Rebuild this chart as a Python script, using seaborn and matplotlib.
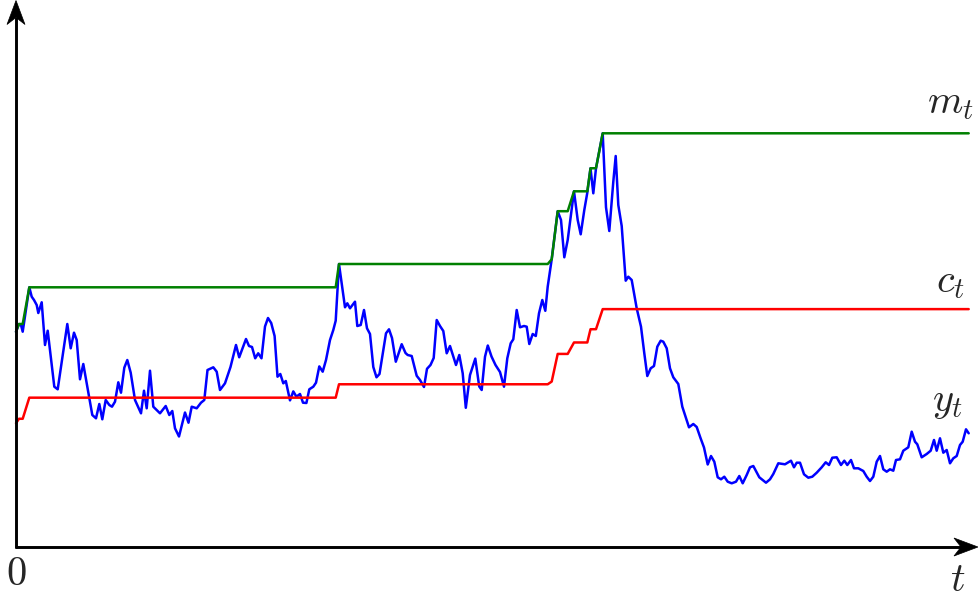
import numpy as np
import pandas as pd
import matplotlib
matplotlib.use("Agg")
import matplotlib.pyplot as plt
from matplotlib.patches import Polygon
import seaborn as sns

# ---- data (time t, process y_t) ----
t = [0, 3, 5, 6.7, 13.3, 15.7, 18, 20.7, 22.3, 25.7, 29, 31.7, 38.3, 41.7, 51.3, 54.7, 58, 60.7,
     64, 67.3, 76.3, 80, 83.3, 86.3, 89.7, 93.3, 96, 99, 102.3, 105, 108.3, 111.3, 114.7, 119,
     125, 128, 130.7, 134, 137.3, 144, 149.7, 153.3, 156.3, 159, 163, 169, 172.5, 175.7, 180.7,
     185, 188.3, 191.5, 197.3, 200.7, 204, 209, 214.5, 220, 223.2, 230, 233, 236, 239.2, 242.2,
     245.5, 249, 252, 255.2, 258.6, 261.5, 264.3, 267.3, 269.8, 274, 277.3, 280.4, 284, 287,
     290.4, 293.3, 297.3, 300, 303.3, 306.7, 310, 314, 317.3, 319.7, 323, 325.7, 329, 331.3,
     334, 335.7, 339, 341.3, 344.7, 348, 351, 354, 357.3, 360.5, 363.5, 370, 373, 376, 379.8,
     385.7, 389.5, 391.7, 395.7, 400.7, 404, 408, 411, 414.5, 417.7, 420.7, 424, 427.3, 430.7,
     434, 440, 443.3, 446.7, 449.8, 454, 459.3, 463.2, 465.7, 469, 471.8, 475.5, 479.5, 484,
     488, 491.3, 494.7, 497.3, 500.7, 504, 508, 510.7, 513.3, 516.7, 519.8, 523, 526.3, 529.3,
     531.7, 535.7, 541.7, 545, 548.3, 551.7, 558, 561.7, 564.7, 568.3, 571.3, 574.5, 577.3,
     580, 586.7, 590, 593.3, 597.3, 599.7, 602.3, 605.7, 609.7, 612.3, 615.7, 620.7, 625,
     628.3, 631.3, 634.7, 638, 641.3, 644.7, 647.3, 650.7, 654, 657.3, 662.3, 666.3, 673,
     677.3, 680.7, 684.5, 688, 691.7, 695, 698.3, 701.7, 705, 708.3, 711.7, 715.7, 720, 723.3,
     726.7, 730.7, 734, 737.3, 743.3, 750, 754, 757.3, 762.3, 769, 775, 778, 780.7, 784, 788,
     792.3, 796.3, 800.7, 805.7, 809.7, 813, 816.3, 820.7, 825, 828.3, 831.3, 835, 838, 842.3,
     847.3, 850.7, 854, 857.3, 860.7, 864, 867.3, 870.7, 874, 877.3, 880, 884, 887.3, 892.3,
     895.7, 899, 901.3, 905.7, 910.7, 914.7, 918, 920.7, 924, 927.3, 930.7, 934, 937.3, 940.7,
     944, 946.7, 950, 952.7]
y = [215.3, 223, 222, 215.3, 259.7, 250.3, 247, 242, 234, 244.7, 202, 216.3, 160.3, 157.7, 223,
     198.7, 214.3, 207, 167.7, 183, 132, 128.7, 143, 127.7, 147, 142, 140.3, 145.3, 164.7,
     154.3, 179.3, 187, 174.3, 147, 133.7, 156.3, 138.7, 176.3, 140.3, 133.7, 141, 132, 136,
     118.7, 110.5, 134.5, 124.3, 140.3, 138.7, 144.3, 147, 177, 179.7, 175.3, 157, 163.7, 180,
     202, 189.7, 208, 201, 200, 188.7, 193.7, 188.7, 220.5, 229, 224, 211, 170.3, 173, 163.7,
     166, 146.6, 155.6, 150.3, 153, 144.3, 144, 157.7, 160.3, 164.3, 180.6, 175.3, 187, 207,
     217, 226.3, 283, 263.7, 239.7, 243.7, 238.7, 241, 245.3, 221, 222, 237, 218.7, 213, 180,
     169.7, 173, 213.7, 217.7, 209, 185.3, 202.8, 194, 192, 191, 171.2, 167, 160, 178.2, 182,
     189, 227, 221, 216, 193.7, 201, 182, 192, 173.7, 139.2, 172, 188.4, 160.6, 157, 190.3,
     201.5, 190.5, 182, 175, 160.3, 188.7, 203.7, 207.7, 237, 219.7, 221, 220.3, 203, 213, 211,
     233.7, 247, 236.2, 260.3, 287.7, 335.8, 327, 289.7, 307, 355.7, 327, 312.7, 337, 354.3,
     378.7, 353.7, 378.8, 413.7, 339.7, 316, 365.3, 391, 342, 321, 266.3, 270.3, 267, 238.7,
     220.3, 193.7, 171, 178.7, 181, 200.3, 206.3, 205.3, 198.7, 178.7, 169.7, 163, 140.3,
     119.7, 123, 120, 109, 99.5, 82.5, 91, 85.3, 69.7, 67.7, 70.3, 65.3, 63.7, 65.3, 71, 63.7,
     72, 79.7, 81, 69.7, 64.3, 67.7, 73, 83.7, 82.7, 86.3, 79.7, 84.3, 84.3, 72.7, 69.3, 70.3,
     74.3, 79.7, 84.7, 82, 89.3, 89.7, 82, 86.3, 82, 87, 78.7, 78.7, 76, 70.3, 66, 70.3, 85.3,
     91, 77.7, 75.3, 77.7, 76.3, 87, 87.7, 96.3, 99.7, 115.3, 105.3, 102.7, 89.7, 93, 96.3,
     107, 96.3, 108.7, 94.3, 97, 83.7, 88.7, 91, 102, 105.3, 117.7, 113.7]

# c_t is a fixed fraction of the running maximum m_t (ratio)
c_ratio = 0.575

labels = [r"$m_t$", r"$c_t$", r"$y_t$"]
axis_labels = [r"$0$", r"$t$"]

m = np.maximum.accumulate(np.array(y))
c = c_ratio * m
df = pd.DataFrame({"t": t, "y": y, "m": m, "c": c})

# ---- figure ----
sns.set_style("white")
plt.rcParams["mathtext.fontset"] = "cm"
plt.rcParams["font.family"] = ["DejaVu Sans"]

fig = plt.figure(figsize=(9.79, 6.0), dpi=100)
ax = fig.add_axes([0, 0, 1, 1])
ax.set_xlim(-16, 963)
ax.set_ylim(-53, 547)
ax.set_axis_off()

lw = 1.8
sns.lineplot(data=df, x="t", y="y", color="#0000ff", linewidth=lw,
             estimator=None, sort=False, ax=ax, zorder=2)
sns.lineplot(data=df, x="t", y="m", color="#008000", linewidth=lw,
             estimator=None, sort=False, ax=ax, zorder=3)
sns.lineplot(data=df, x="t", y="c", color="#ff0000", linewidth=lw,
             estimator=None, sort=False, ax=ax, zorder=3)

# axes with stealth-style arrow heads (axes units equal pixels here)
x_end, y_end = 962, 546.5
ax.plot([-1.2, x_end - 16], [0, 0], color="black", lw=2.1, solid_capstyle="butt", zorder=4)
ax.plot([0, 0], [-1.2, y_end - 16], color="black", lw=2.1, solid_capstyle="butt", zorder=4)
hl, hw, notch = 24, 9, 17
ax.add_patch(Polygon([(x_end, 0), (x_end - hl, hw), (x_end - notch, 0), (x_end - hl, -hw)],
                     closed=True, facecolor="black", edgecolor="black", lw=0.5, zorder=5))
ax.add_patch(Polygon([(0, y_end), (-hw, y_end - hl), (0, y_end - notch), (hw, y_end - hl)],
                     closed=True, facecolor="black", edgecolor="black", lw=0.5, zorder=5))

fs = 29
ax.text(934, 434, labels[0], fontsize=fs, ha="center", va="baseline")
ax.text(934, 255, labels[1], fontsize=fs, ha="center", va="baseline")
ax.text(932, 136, labels[2], fontsize=fs, ha="center", va="baseline")
ax.text(0.5, -38, axis_labels[0], fontsize=fs, ha="center", va="baseline")
ax.text(941.5, -44, axis_labels[1], fontsize=fs, ha="center", va="baseline")

fig.savefig("out.png", dpi=100)
